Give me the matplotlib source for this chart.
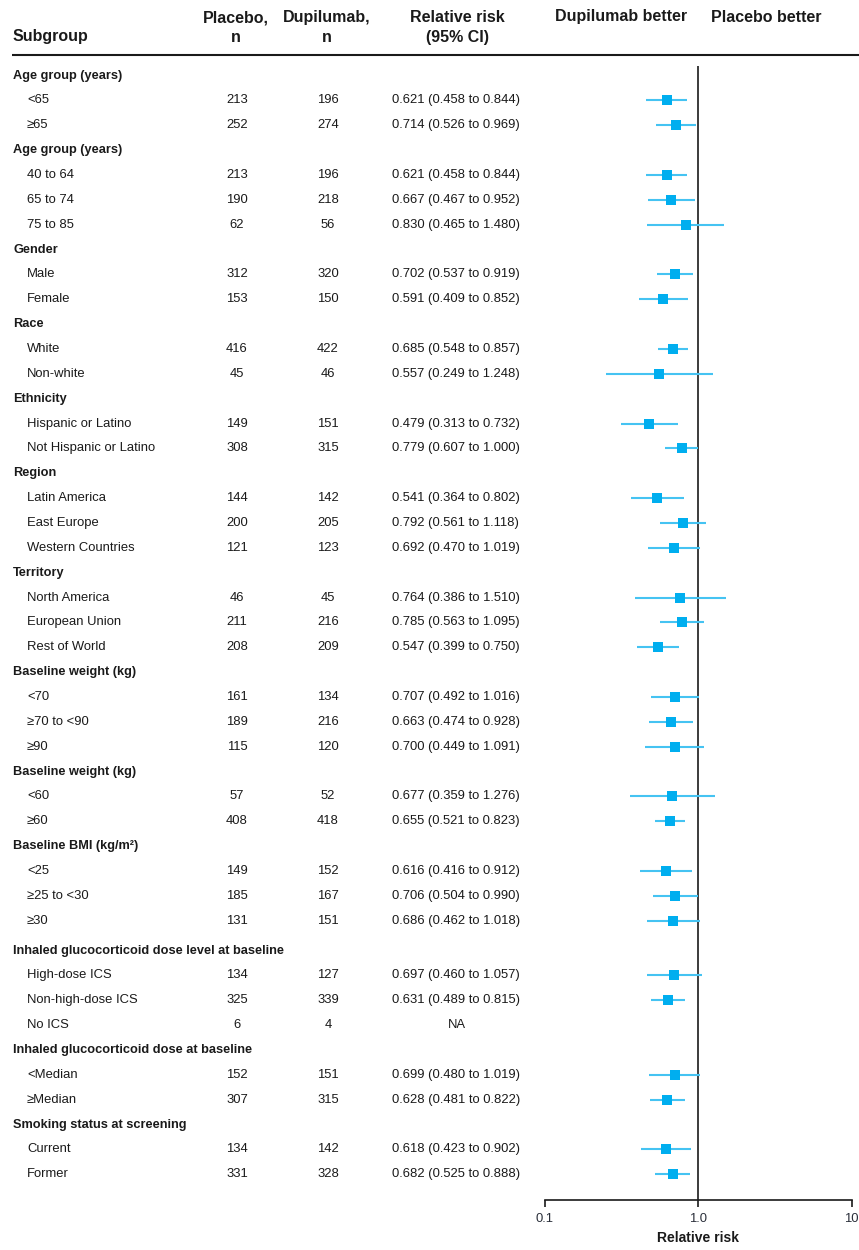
import matplotlib
matplotlib.use("Agg")
import matplotlib.pyplot as plt
from matplotlib.ticker import FixedLocator, FixedFormatter

plt.rcParams['font.family'] = ['Liberation Sans', 'DejaVu Sans']

# subgroup rows: headers have no counts / estimates
labels = [
    "Age group (years)", "<65", "≥65",
    "Age group (years)", "40 to 64", "65 to 74", "75 to 85",
    "Gender", "Male", "Female",
    "Race", "White", "Non-white",
    "Ethnicity", "Hispanic or Latino", "Not Hispanic or Latino",
    "Region", "Latin America", "East Europe", "Western Countries",
    "Territory", "North America", "European Union", "Rest of World",
    "Baseline weight (kg)", "<70", "≥70 to <90", "≥90",
    "Baseline weight (kg)", "<60", "≥60",
    "Baseline BMI (kg/m²)", "<25", "≥25 to <30", "≥30",
    "Inhaled glucocorticoid dose level at baseline", "High-dose ICS", "Non-high-dose ICS", "No ICS",
    "Inhaled glucocorticoid dose at baseline", "<Median", "≥Median",
    "Smoking status at screening", "Current", "Former",
]
header_rows = [0, 3, 7, 10, 13, 16, 20, 24, 28, 31, 35, 39, 42]

placebo_n = [None, 213, 252, None, 213, 190, 62, None, 312, 153, None, 416, 45,
             None, 149, 308, None, 144, 200, 121, None, 46, 211, 208,
             None, 161, 189, 115, None, 57, 408, None, 149, 185, 131,
             None, 134, 325, 6, None, 152, 307, None, 134, 331]
dupilumab_n = [None, 196, 274, None, 196, 218, 56, None, 320, 150, None, 422, 46,
               None, 151, 315, None, 142, 205, 123, None, 45, 216, 209,
               None, 134, 216, 120, None, 52, 418, None, 152, 167, 151,
               None, 127, 339, 4, None, 151, 315, None, 142, 328]
rr = [None, 0.621, 0.714, None, 0.621, 0.667, 0.830, None, 0.702, 0.591, None, 0.685, 0.557,
      None, 0.479, 0.779, None, 0.541, 0.792, 0.692, None, 0.764, 0.785, 0.547,
      None, 0.707, 0.663, 0.700, None, 0.677, 0.655, None, 0.616, 0.706, 0.686,
      None, 0.697, 0.631, None, None, 0.699, 0.628, None, 0.618, 0.682]
ci_low = [None, 0.458, 0.526, None, 0.458, 0.467, 0.465, None, 0.537, 0.409, None, 0.548, 0.249,
          None, 0.313, 0.607, None, 0.364, 0.561, 0.470, None, 0.386, 0.563, 0.399,
          None, 0.492, 0.474, 0.449, None, 0.359, 0.521, None, 0.416, 0.504, 0.462,
          None, 0.460, 0.489, None, None, 0.480, 0.481, None, 0.423, 0.525]
ci_high = [None, 0.844, 0.969, None, 0.844, 0.952, 1.480, None, 0.919, 0.852, None, 0.857, 1.248,
           None, 0.732, 1.000, None, 0.802, 1.118, 1.019, None, 1.510, 1.095, 0.750,
           None, 1.016, 0.928, 1.091, None, 1.276, 0.823, None, 0.912, 0.990, 1.018,
           None, 1.057, 0.815, None, None, 1.019, 0.822, None, 0.902, 0.888]

col_heads = ["Subgroup", "Placebo,\nn", "Dupilumab,\nn", "Relative risk\n(95% CI)"]
side_heads = ["Dupilumab better", "Placebo better"]
ticks = [0.1, 1.0, 10]
tick_labels = ["0.1", "1.0", "10"]

W, H = 859, 1250
TXT = "#1a1a1a"
MARK = "#00aeef"
LINE = "#45c3f2"

# row y positions (pixel units, top-down)
row_y = []
y = 75.5
for i in range(len(labels)):
    if i == 35:
        y += 5
    row_y.append(y)
    y += 24.86

fig = plt.figure(figsize=(W / 100, H / 100), dpi=100)
tax = fig.add_axes([0, 0, 1, 1])
tax.set_xlim(0, W)
tax.set_ylim(H, 0)
tax.axis("off")

# column headings
tax.text(13, 37, col_heads[0], fontsize=11.5, fontweight="bold", color=TXT, va="center", ha="left")
for cx, head in zip([236, 327, 457], col_heads[1:]):
    tax.text(cx, 27.5, head, fontsize=11.5, fontweight="bold", color=TXT, va="center", ha="center",
             linespacing=1.4)
tax.text(621, 17, side_heads[0], fontsize=11.5, fontweight="bold", color=TXT, va="center", ha="center")
tax.text(766, 17, side_heads[1], fontsize=11.5, fontweight="bold", color=TXT, va="center", ha="center")
tax.plot([12, W], [55, 55], color=TXT, lw=1.5, solid_capstyle="butt")

# table body
for i, lab in enumerate(labels):
    yy = row_y[i]
    if i in header_rows:
        tax.text(13, yy, lab, fontsize=9.2, fontweight="bold", color=TXT, va="center", ha="left")
        continue
    tax.text(27, yy, lab, fontsize=9.4, color=TXT, va="center", ha="left")
    tax.text(237, yy, str(placebo_n[i]), fontsize=9.4, color=TXT, va="center", ha="center")
    tax.text(328, yy, str(dupilumab_n[i]), fontsize=9.4, color=TXT, va="center", ha="center")
    if rr[i] is None:
        tax.text(457, yy, "NA", fontsize=9.4, color=TXT, va="center", ha="center")
    else:
        tax.text(392, yy, f"{rr[i]:.3f} ({ci_low[i]:.3f} to {ci_high[i]:.3f})",
                 fontsize=9.4, color=TXT, va="center", ha="left")

# forest panel
x0, x1 = 545 / W, 851.7 / W
fax = fig.add_axes([x0, (H - 1200) / H, x1 - x0, 1140 / H])
fax.set_xscale("log")
fax.set_xlim(0.1, 10)
fax.set_ylim(1200, 60)
fax.patch.set_alpha(0)
for s in ["top", "left", "right"]:
    fax.spines[s].set_visible(False)
fax.spines["bottom"].set_linewidth(1.2)
fax.spines["bottom"].set_color(TXT)
fax.xaxis.set_major_locator(FixedLocator(ticks))
fax.xaxis.set_major_formatter(FixedFormatter(tick_labels))
fax.xaxis.set_minor_locator(FixedLocator([]))
fax.tick_params(axis="x", direction="out", length=5, width=1.2, color=TXT, labelsize=9.4,
                labelcolor="#2a2f3a", pad=4)
fax.set_yticks([])
fax.set_xlabel("Relative risk", fontsize=10, fontweight="bold", color=TXT, labelpad=5)

fax.vlines(1.0, 66, 1200, color=TXT, lw=1.2, zorder=1)

for i in range(len(labels)):
    if rr[i] is None:
        continue
    fax.plot([ci_low[i], ci_high[i]], [row_y[i], row_y[i]], color=LINE, lw=1.5,
             solid_capstyle="butt", zorder=2)
    fax.plot(rr[i], row_y[i], marker="s", ms=7, color=MARK, mec=MARK, mew=0, zorder=3)

fig.savefig("out.png", dpi=100)
